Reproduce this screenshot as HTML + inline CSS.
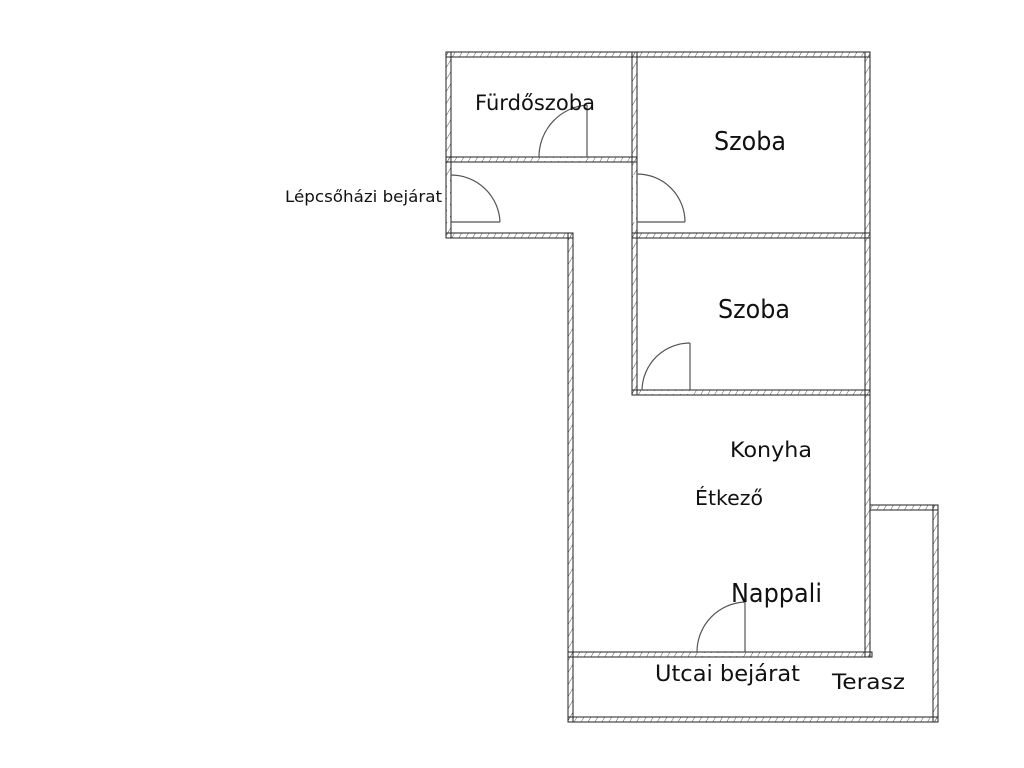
<!DOCTYPE html>
<html><head><meta charset="utf-8"><style>
html,body{margin:0;padding:0;background:#fff;}
svg{display:block;}
text{font-family:"DejaVu Sans","Liberation Sans",sans-serif;fill:#111;}
</style></head><body>
<svg width="1024" height="768" viewBox="0 0 1024 768" xmlns="http://www.w3.org/2000/svg">
<defs>
<pattern id="h" width="6" height="6" patternUnits="userSpaceOnUse" patternTransform="rotate(30)">
<line x1="0" y1="0" x2="0" y2="6" stroke="#555" stroke-width="1"/>
</pattern>
</defs>
<g fill="url(#h)" stroke="#222" stroke-width="1">
<rect x="446" y="52" width="424" height="5"/>
<rect x="446" y="52" width="5" height="186"/>
<rect x="446" y="157" width="191" height="5"/>
<rect x="632" y="52" width="5" height="343"/>
<rect x="865" y="52" width="5" height="605"/>
<rect x="446" y="233" width="127" height="5"/>
<rect x="568" y="233" width="5" height="489"/>
<rect x="632" y="233" width="238" height="5"/>
<rect x="632" y="390" width="238" height="5"/>
<rect x="568" y="652" width="304" height="5"/>
<rect x="870" y="505" width="68" height="5"/>
<rect x="933" y="505" width="5" height="217"/>
<rect x="568" y="717" width="370" height="5"/>
</g>
<g fill="#fff" stroke="none">
<rect x="540" y="158" width="46" height="3"/>
<rect x="447" y="175" width="3" height="47"/>
<rect x="633" y="175" width="3" height="47"/>
<rect x="643" y="391" width="46" height="3"/>
<rect x="698" y="653" width="46" height="3"/>
</g>
<g fill="none" stroke="#555" stroke-width="1.2">
<line x1="587" y1="105" x2="587" y2="157"/><path d="M587 105 A52 52 0 0 0 539 157"/>
<line x1="451" y1="222" x2="500" y2="222"/><path d="M451 175 A49 49 0 0 1 500 222"/>
<line x1="637" y1="222" x2="685" y2="222"/><path d="M637 174 A48 48 0 0 1 685 222"/>
<line x1="690" y1="343" x2="690" y2="390"/><path d="M690 343 A48 48 0 0 0 642 390"/>
<line x1="745" y1="602" x2="745" y2="652"/><path d="M745 602 A50 50 0 0 0 697 652"/>
</g>
<text x="475" y="110" font-size="21" textLength="120" lengthAdjust="spacingAndGlyphs">Fürdőszoba</text>
<text x="714" y="150" font-size="26" textLength="72" lengthAdjust="spacingAndGlyphs">Szoba</text>
<text x="285" y="202" font-size="16" textLength="157" lengthAdjust="spacingAndGlyphs">Lépcsőházi bejárat</text>
<text x="718" y="318" font-size="26" textLength="72" lengthAdjust="spacingAndGlyphs">Szoba</text>
<text x="730" y="457" font-size="21" textLength="82" lengthAdjust="spacingAndGlyphs">Konyha</text>
<text x="695" y="505" font-size="20" textLength="68" lengthAdjust="spacingAndGlyphs">Étkező</text>
<text x="731" y="602" font-size="26" textLength="91" lengthAdjust="spacingAndGlyphs">Nappali</text>
<text x="655" y="681" font-size="22" textLength="145" lengthAdjust="spacingAndGlyphs">Utcai bejárat</text>
<text x="832" y="689" font-size="21" textLength="73" lengthAdjust="spacingAndGlyphs">Terasz</text>
</svg>
</body></html>
